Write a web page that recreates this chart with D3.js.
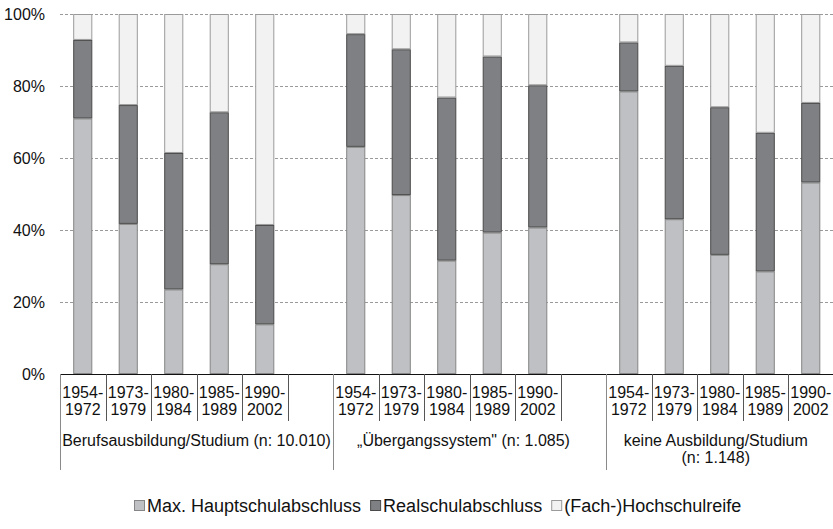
<!DOCTYPE html>
<html>
<head>
<meta charset="utf-8">
<script src="https://cdn.jsdelivr.net/npm/d3@7"></script>
<style>
  html, body { margin: 0; padding: 0; background: #fff; }
  svg { display: block; font-family: "Liberation Sans", Arial, sans-serif; }
</style>
</head>
<body>
<svg id="chart" width="833" height="529"></svg>
<script>
// ---- data ----
const periods = [["1954-", "1972"], ["1973-", "1979"], ["1980-", "1984"], ["1985-", "1989"], ["1990-", "2002"]];
const groups = [
  ["Berufsausbildung/Studium (n: 10.010)"],
  ["\u201EÜbergangssystem\" (n: 1.085)"],
  ["keine Ausbildung/Studium", "(n: 1.148)"]
];
const seriesNames = ["Max. Hauptschulabschluss", "Realschulabschluss", "(Fach-)Hochschulreife"];
// values per group, per period (percent)
const hauptschule = [
  [71.0, 41.7, 23.5, 30.5, 13.8],
  [63.1, 49.7, 31.5, 39.3, 40.7],
  [78.5, 43.0, 33.1, 28.5, 53.2]
];
const realschule = [
  [21.8, 33.0, 37.9, 42.2, 27.6],
  [31.3, 40.5, 45.3, 48.9, 39.5],
  [13.6, 42.6, 41.0, 38.5, 22.1]
];
const hochschulreife = [
  [7.2, 25.3, 38.6, 27.3, 58.6],
  [5.6, 9.8, 23.2, 11.8, 19.8],
  [7.9, 14.4, 25.9, 33.0, 24.7]
];
const yTicks = [0, 20, 40, 60, 80, 100];

// ---- styles ----
const fills = ["#bfc0c3", "#7f8083", "#f1f2f1"];
const strokes = ["#858585", "#4a4a4a", "#9a9a9a"];
const axisFont = 16, legendFont = 18;

// build slots: 5 periods + blank after groups 1 and 2
const slots = [];
groups.forEach((g, gi) => {
  periods.forEach((p, pi) => {
    slots.push({ key: `g${gi}p${pi}`, gi, pi, period: p,
      v0: hauptschule[gi][pi], v1: realschule[gi][pi], v2: hochschulreife[gi][pi] });
  });
  if (gi < groups.length - 1) slots.push({ key: `blank${gi}`, blank: true, gi });
});
const bars = slots.filter(s => !s.blank);

const svg = d3.select("#chart");
const plotLeft = 60, plotRight = 833.5, plotTop = 14, plotBottom = 374;

const x = d3.scaleBand().domain(slots.map(s => s.key)).range([plotLeft, plotRight])
  .paddingInner(0.58).paddingOuter(0.29);
const y = d3.scaleLinear().domain([0, 100]).range([plotBottom, plotTop]);

// gridlines
svg.append("g").selectAll("line").data(yTicks.filter(t => t > 0)).join("line")
  .attr("x1", plotLeft).attr("x2", 833)
  .attr("y1", d => y(d) + 0.5).attr("y2", d => y(d) + 0.5)
  .attr("stroke", "#9a9a9a").attr("stroke-width", 1).attr("stroke-dasharray", "3,2");

// y labels
svg.append("g").selectAll("text").data(yTicks).join("text")
  .attr("x", 45).attr("y", d => y(d)).attr("dy", "0.35em")
  .attr("text-anchor", "end").attr("font-size", axisFont).attr("fill", "#111")
  .text(d => d + "%");

// stacked bars
const stack = d3.stack().keys(["v0", "v1", "v2"]);
const stacked = stack(bars);
const bw = x.bandwidth();
stacked.forEach((layer, li) => {
  svg.append("g").selectAll("rect").data(layer).join("rect")
    .attr("x", d => x(d.data.key) + 0.5)
    .attr("width", bw - 1)
    .attr("y", d => y(Math.min(d[1], 100)) + 0.5)
    .attr("height", d => Math.max(0, y(d[0]) - y(Math.min(d[1], 100)) - 1))
    .attr("fill", fills[li]).attr("stroke", strokes[li]).attr("stroke-width", 1);
});

// x axis line
svg.append("line").attr("x1", plotLeft).attr("x2", 833).attr("y1", plotBottom + 0.5).attr("y2", plotBottom + 0.5)
  .attr("stroke", "#111").attr("stroke-width", 1);

// slot separators
const step = x.step();
const slotStart = i => plotLeft + i * step;
const boundaries = d3.range(0, slots.length + 1);
const groupStarts = [0];
slots.forEach((s, i) => { if (s.blank) groupStarts.push(i + 1); });
svg.append("g").selectAll("line").data(boundaries).join("line")
  .attr("x1", i => Math.round(slotStart(i)) + 0.5).attr("x2", i => Math.round(slotStart(i)) + 0.5)
  .attr("y1", plotBottom).attr("y2", i => groupStarts.includes(i) ? 470 : 421)
  .attr("stroke", i => groupStarts.includes(i) ? "#8a8a8a" : "#555").attr("stroke-width", 1);

// period labels
const pl = svg.append("g").attr("font-size", axisFont).attr("fill", "#111").attr("text-anchor", "middle");
bars.forEach(b => {
  const cx = x(b.key) + bw / 2;
  pl.append("text").attr("x", cx).attr("y", 398).text(b.period[0]);
  pl.append("text").attr("x", cx).attr("y", 415).text(b.period[1]);
});

// group labels
const gl = svg.append("g").attr("font-size", axisFont).attr("fill", "#111").attr("text-anchor", "middle");
groups.forEach((g, gi) => {
  const s = groupStarts[gi];
  const e = gi < groups.length - 1 ? groupStarts[gi + 1] : slots.length;
  const cx = (slotStart(s) + slotStart(e)) / 2 - (gi === 2 ? 4 : (gi === 1 ? 6 : 0));
  g.forEach((line, li) => {
    gl.append("text").attr("x", cx).attr("y", 446 + li * 17).text(line);
  });
});

// legend
const lg = svg.append("g").attr("font-size", legendFont).attr("fill", "#111");
let lx = 134;
seriesNames.forEach((name, i) => {
  lg.append("rect").attr("x", lx + 0.5).attr("y", 500.5).attr("width", 10).attr("height", 10)
    .attr("fill", fills[i]).attr("stroke", strokes[i]).attr("stroke-width", 1);
  const t = lg.append("text").attr("x", lx + 13).attr("y", 511.5).text(name);
  lx += 13 + t.node().getComputedTextLength() + 9;
});
</script>
</body>
</html>
